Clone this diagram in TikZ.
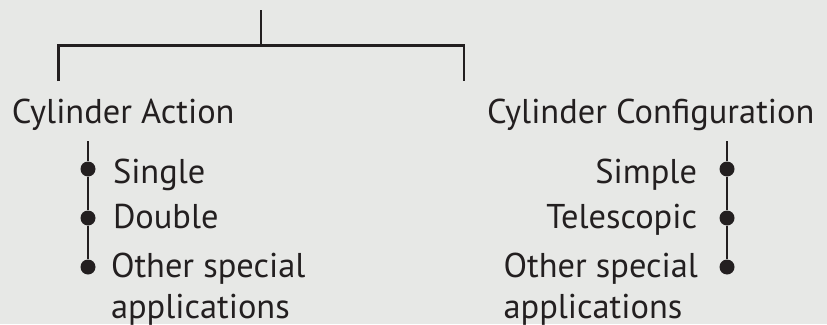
\documentclass[tikz,border=0pt]{standalone}
\usepackage{fontspec}
\setmainfont{PT Sans}
\definecolor{bg}{HTML}{E7E8E6}
\definecolor{ink}{HTML}{231F20}
\begin{document}
\begin{tikzpicture}[x=1pt,y=-1pt,
  lbl/.style={inner sep=0pt,outer sep=0pt,text=ink,font=\fontsize{34.4}{41}\selectfont},
  dot/.style={circle,fill=ink,inner sep=0pt,minimum size=15pt},
  ln/.style={draw=ink,line width=2.2pt}]
\fill[bg] (0,0) rectangle (827,324);
\useasboundingbox (0,0) rectangle (827,324);
% tree bracket
\coordinate (root) at (261,10);
\coordinate (j) at (261,45.5);
\coordinate (lstub) at (58.5,81);
\coordinate (rstub) at (464,81);
\draw[ln] (lstub) |- (j) -| (rstub);
\draw[ln] (root) -- (j);
% headings
\node[lbl,anchor=base west] (act) at (12,123) {Cylinder Action};
\node[lbl,anchor=base west] (cfg) at (487,123) {Cylinder Configuration};
% left list
\coordinate (ltop) at (88,141);
\node[dot] (l1) at (88,169) {};
\node[dot] (l2) at (88,218) {};
\node[dot] (l3) at (88,267) {};
\draw[ln] (ltop) -- (l1) -- (l2) -- (l3);
\node[lbl,anchor=base west] (s1) at (113,183) {Single};
\node[lbl,anchor=base west] (s2) at (113,228) {Double};
\node[lbl,anchor=base west,align=left] (s3) at (111,318) {Other special\\applications};
% right list
\coordinate (rtop) at (727,141);
\node[dot] (r1) at (727,169) {};
\node[dot] (r2) at (727,218) {};
\node[dot] (r3) at (727,267) {};
\draw[ln] (rtop) -- (r1) -- (r2) -- (r3);
\node[lbl,anchor=base east] (t1) at (697,183) {Simple};
\node[lbl,anchor=base east] (t2) at (697,228) {Telescopic};
\node[lbl,anchor=base east,align=left] (t3) at (698,318) {Other special\\applications};
\end{tikzpicture}
\end{document}
